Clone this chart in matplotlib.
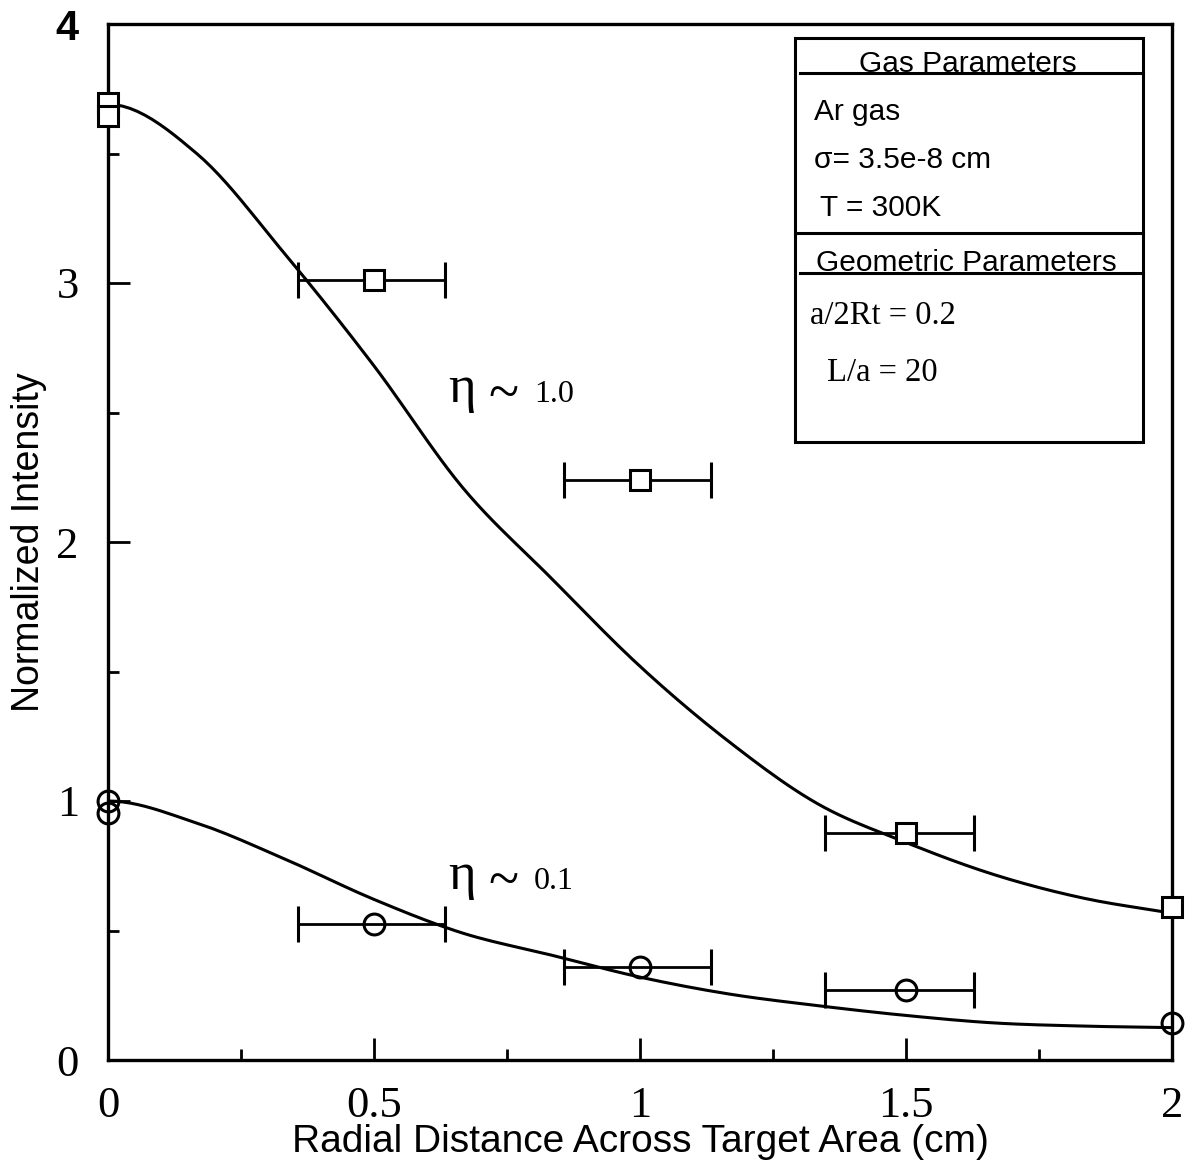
import matplotlib
matplotlib.use("Agg")
import matplotlib.pyplot as plt
from matplotlib.lines import Line2D
from matplotlib.patches import Rectangle
from matplotlib.ticker import MultipleLocator, FixedLocator
import numpy as np

# Model curves (computed profile), sampled every 1/6 cm
curve_x = np.arange(13) / 6.0
curve_eta10 = [3.69, 3.50, 3.11, 2.68, 2.21, 1.86, 1.52, 1.23, 0.99, 0.84, 0.715, 0.625, 0.567]
curve_eta01 = [1.00, 0.915, 0.775, 0.62, 0.49, 0.405, 0.32, 0.255, 0.21, 0.172, 0.143, 0.131, 0.125]

# Measured points
meas_x = [0.0, 0.0, 0.5, 1.0, 1.5, 2.0]
meas_eta10 = [3.695, 3.645, 3.01, 2.24, 0.875, 0.59]
meas_eta01 = [1.00, 0.955, 0.525, 0.36, 0.27, 0.143]

# Horizontal uncertainty of the off-axis points
err_x = [0.5, 1.0, 1.5]
err_eta10 = [3.01, 2.24, 0.875]
err_eta01 = [0.525, 0.36, 0.27]
err_lo = [0.142, 0.143, 0.152]
err_hi = [0.133, 0.134, 0.128]

x_ticks = [0, 0.5, 1, 1.5, 2]
x_ticklabels = ["0", "0.5", "1", "1.5", "2"]
y_ticks = [0, 1, 2, 3, 4]
y_ticklabels = ["0", "1", "2", "3", "4"]


def smooth_line(xs, ys, sub=12):
    """Catmull-Rom spline through the sampled curve; the profile is symmetric
    about r = 0, so the first segment uses the mirrored neighbour."""
    xs = np.asarray(xs, float)
    ys = np.asarray(ys, float)
    px = np.concatenate([[-xs[1]], xs, [2 * xs[-1] - xs[-2]]])
    py = np.concatenate([[ys[1]], ys, [2 * ys[-1] - ys[-2]]])
    t = np.linspace(0, 1, sub, endpoint=False)
    ox, oy = [], []
    for i in range(1, len(px) - 2):
        for arr, out in ((px, ox), (py, oy)):
            p0, p1, p2, p3 = arr[i - 1], arr[i], arr[i + 1], arr[i + 2]
            out.extend(0.5 * (2 * p1 + (-p0 + p2) * t + (2 * p0 - 5 * p1 + 4 * p2 - p3) * t ** 2
                              + (-p0 + 3 * p1 - 3 * p2 + p3) * t ** 3))
    ox.append(xs[-1])
    oy.append(ys[-1])
    return np.array(ox), np.array(oy)


W, H = 1192, 1175
fig = plt.figure(figsize=(W / 100, H / 100), dpi=100)
ax = fig.add_axes([108 / W, 1 - 1060 / H, (1172 - 108) / W, (1060 - 24) / H])

lw = 2.2
ax.plot(*smooth_line(curve_x, curve_eta10), color="black", lw=lw, zorder=3)
ax.plot(*smooth_line(curve_x, curve_eta01), color="black", lw=lw, zorder=3)

ax.errorbar(err_x, err_eta10, xerr=[err_lo, err_hi], fmt="none", ecolor="black",
            elinewidth=2.0, capsize=13, capthick=2.2, zorder=2)
ax.errorbar(err_x, err_eta01, xerr=[err_lo, err_hi], fmt="none", ecolor="black",
            elinewidth=2.0, capsize=13, capthick=2.2, zorder=2)

ax.plot(meas_x, meas_eta10, ls="none", marker="s", ms=14, mfc="white", mec="black",
        mew=2.2, zorder=4, clip_on=False)
ax.plot(meas_x, meas_eta01, ls="none", marker="o", ms=15, mfc="none", mec="black",
        mew=2.2, zorder=4, clip_on=False)

ax.set_xlim(0, 2)
ax.set_ylim(0, 4)
ax.xaxis.set_major_locator(FixedLocator(x_ticks))
ax.xaxis.set_minor_locator(MultipleLocator(0.25))
ax.yaxis.set_major_locator(FixedLocator(y_ticks))
ax.yaxis.set_minor_locator(MultipleLocator(0.5))
ax.set_xticklabels(x_ticklabels)
ax.set_yticklabels(y_ticklabels)

serif = ["Liberation Serif", "DejaVu Serif"]
sans = ["Liberation Sans", "DejaVu Sans"]
for lab in ax.get_xticklabels() + ax.get_yticklabels():
    lab.set_family(serif)
    lab.set_fontsize(32)
# the top label is set in a heavy sans face
top = ax.get_yticklabels()[-1]
top.set_family(sans)
top.set_weight("bold")
top.set_fontsize(30)

ax.tick_params(which="both", direction="in", top=False, right=False, width=2)
ax.tick_params(which="major", length=16)
ax.tick_params(which="minor", length=8)
ax.tick_params(axis="x", pad=19)
ax.tick_params(axis="y", pad=21)
for s in ax.spines.values():
    s.set_linewidth(2.4)

ax.set_xlabel("Radial Distance Across Target Area (cm)", family=sans, fontsize=28, labelpad=-2)
ax.set_ylabel("Normalized Intensity", family=sans, fontsize=27, labelpad=6)

# Curve labels
def eta_label(xd, yd, value):
    ax.text(xd, yd, "\u03b7", family=serif, fontsize=38, ha="left", va="baseline")
    ax.text(xd + 0.075, yd - 0.03, "~", family=serif, fontsize=40, ha="left", va="baseline")
    ax.text(xd + 0.161, yd, value, family=serif, fontsize=23, ha="left", va="baseline")

eta_label(0.64, 2.54, "1.0")
eta_label(0.64, 0.66, "0.1")

# Parameter box drawn in figure pixel coordinates
def fx(px):
    return px / W

def fy(py):
    return 1 - py / H

tf = fig.transFigure
fig.add_artist(Rectangle((fx(795), fy(442)), fx(1143) - fx(795), fy(38) - fy(442),
                         transform=tf, fill=False, lw=2.2, ec="black"))
for (x0, x1, yy) in [(800, 1143, 73), (795, 1143, 233), (800, 1143, 273)]:
    fig.add_artist(Line2D([fx(x0), fx(x1)], [fy(yy), fy(yy)], transform=tf,
                          color="black", lw=2.2))

fs_box = 21.5
fig.text(fx(968), fy(72), "Gas Parameters", family=sans, fontsize=fs_box, ha="center", va="baseline")
fig.text(fx(814), fy(120), "Ar gas", family=sans, fontsize=fs_box, ha="left", va="baseline")
fig.text(fx(814), fy(168), "\u03c3= 3.5e-8 cm", family=sans, fontsize=fs_box, ha="left", va="baseline")
fig.text(fx(820), fy(216), "T = 300K", family=sans, fontsize=fs_box, ha="left", va="baseline")
fig.text(fx(966), fy(271), "Geometric Parameters", family=sans, fontsize=fs_box, ha="center", va="baseline")
fig.text(fx(810), fy(324), "a/2Rt = 0.2", family=serif, fontsize=23.5, ha="left", va="baseline")
fig.text(fx(827), fy(381), "L/a = 20", family=serif, fontsize=23.5, ha="left", va="baseline")

fig.savefig("out.png", dpi=100, facecolor="white")
